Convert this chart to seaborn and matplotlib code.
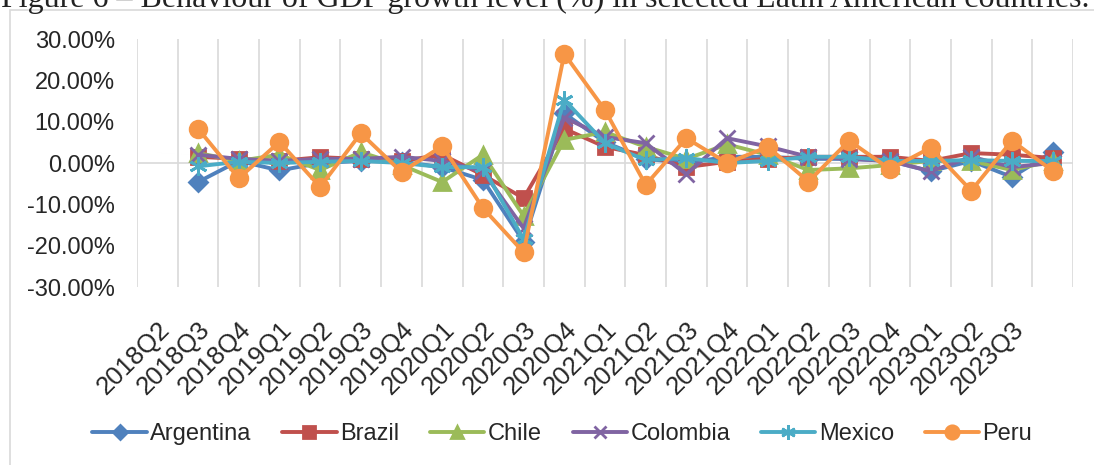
import numpy as np
import pandas as pd
import matplotlib
matplotlib.use("Agg")
import matplotlib.pyplot as plt
import matplotlib.patches as mpatches
import seaborn as sns

nan = np.nan

# category axis: 23 slots, the last one has no label
tick_labels = ['2018Q2', '2018Q3', '2018Q4', '2019Q1', '2019Q2', '2019Q3', '2019Q4',
               '2020Q1', '2020Q2', '2020Q3', '2020Q4', '2021Q1', '2021Q2', '2021Q3',
               '2021Q4', '2022Q1', '2022Q2', '2022Q3', '2022Q4', '2023Q1', '2023Q2',
               '2023Q3', '']

# GDP growth (%) per category slot
argentina = [nan, -4.6, 0.5, -1.8, 0.0, 0.5, 0.3, -1.0, -4.1, -19.0, 12.0, 5.0, 1.0,
             0.0, 1.5, 1.5, 1.0, 1.0, 0.5, -2.0, 0.5, -3.4, 2.7]
brazil = [nan, 1.5, 1.0, 0.5, 1.4, 1.0, 0.5, 2.0, -2.9, -8.5, 8.3, 3.9, 1.9,
          -1.0, 0.3, 1.0, 1.5, 1.5, 1.5, 0.5, 2.4, 2.0, 1.2]
chile = [nan, 2.4, 0.5, 2.0, -1.7, 2.6, -0.5, -4.6, 2.0, -12.8, 5.6, 7.5, 3.9,
         1.0, 4.5, 2.0, -1.7, -1.3, -0.5, 0.5, 0.5, -1.7, 0.5]
colombia = [nan, 2.0, 1.0, 0.5, 1.0, 1.0, 1.5, 0.5, -2.0, -15.8, 11.0, 6.3, 4.8,
            -2.7, 6.0, 4.0, 1.5, 1.0, 0.5, -2.0, 1.5, -1.0, 0.0]
mexico = [nan, -0.8, 0.3, 0.0, 0.3, 0.5, 0.0, -1.0, -1.0, -18.5, 15.3, 4.8, 0.7,
          1.2, 0.0, 0.5, 1.5, 1.5, 0.5, 0.5, 0.7, 0.5, 0.5]
peru = [nan, 8.3, -3.7, 5.1, -5.8, 7.2, -2.2, 4.1, -10.9, -21.6, 26.4, 12.8, -5.3,
        6.0, 0.0, 3.9, -4.5, 5.4, -1.5, 3.7, -6.7, 5.4, -1.9]

countries = ['Argentina', 'Brazil', 'Chile', 'Colombia', 'Mexico', 'Peru']
series = [argentina, brazil, chile, colombia, mexico, peru]
colors = ['#4F81BD', '#C0504D', '#9BBB59', '#8064A2', '#4BACC6', '#F79646']
markers = ['D', 's', '^', 'x', (6, 2, 0), 'o']
msizes = [9, 10, 11, 11, 13, 12]

df = pd.DataFrame({c: s for c, s in zip(countries, series)})
df['slot'] = np.arange(len(tick_labels))

sns.set_style("white")
plt.rcParams['font.family'] = ['Liberation Sans', 'DejaVu Sans']

fig = plt.figure(figsize=(10.94, 4.65), dpi=100)
W, H = 1094, 465
ax = fig.add_axes([137 / W, 1 - 287 / H, (1073 - 137) / W, (287 - 39) / H])

# light frame of the chart area
fig.patches.append(mpatches.Rectangle((10 / W, -0.1), 1.2, 1.1 - 10 / H,
                                      transform=fig.transFigure, fill=False,
                                      edgecolor='#d9d9d9', linewidth=1.2))

# caption above the chart, cut off at the top like in the source
fig.text(1 / W, 1 - 7 / H,
         "Figure 6 \u2013 Behaviour of GDP growth level (%) in selected Latin American countries.",
         fontsize=23, family=['Liberation Serif', 'DejaVu Serif'], va='baseline', ha='left',
         color='#222222')

for c, col, m, ms in zip(countries, colors, markers, msizes):
    sns.lineplot(data=df, x='slot', y=c, ax=ax, color=col, marker=m, markersize=ms,
                 markeredgecolor=col, markerfacecolor=col, markeredgewidth=2,
                 linewidth=2.8, label=c)

n = len(tick_labels)
ax.set_xlim(-0.5, n - 0.5)
ax.set_ylim(-30, 30)
for b in np.arange(-0.5, n, 1.0):
    ax.axvline(b, color='#d9d9d9', linewidth=1.2, zorder=0)
ax.axhline(0, color='#d9d9d9', linewidth=1.2, zorder=0)

ax.set_yticks(np.arange(-30, 31, 10))
ax.set_yticklabels([f"{v:.2f}%" for v in np.arange(-30, 31, 10)], fontsize=17)
ax.set_xticks(np.arange(n))
ax.set_xticklabels(tick_labels, fontsize=18.5, rotation=45, ha='right', va='top',
                   rotation_mode='anchor')
ax.tick_params(axis='y', length=0, pad=16)
ax.tick_params(axis='x', length=0, pad=22)
ax.set_xlabel('')
ax.set_ylabel('')
for s in ax.spines.values():
    s.set_visible(False)

handles, labels = ax.get_legend_handles_labels()
ax.legend_.remove()
fig.legend(handles, labels, loc='center', bbox_to_anchor=(0.514, 1 - 434 / H), ncol=6,
           frameon=False, fontsize=17, handlelength=2.3, handletextpad=0.15,
           columnspacing=1.3, markerscale=0.8)

fig.savefig("out.png", dpi=100)
